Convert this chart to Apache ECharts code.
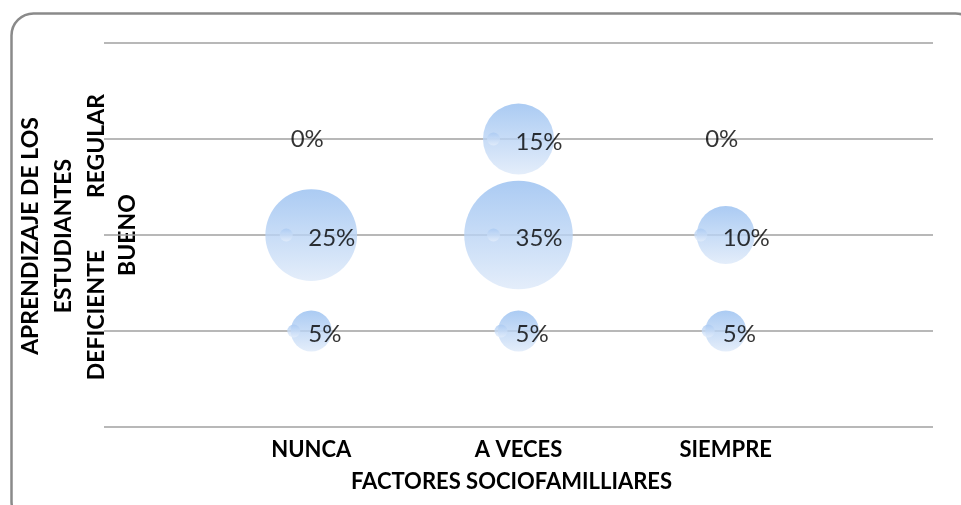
<!DOCTYPE html>
<html>
<head>
<meta charset="utf-8">
<script src="https://cdn.jsdelivr.net/npm/echarts@6/dist/echarts.min.js"></script>
<style>
html,body{margin:0;padding:0;background:#fff;}
#chart{width:961px;height:505px;}
</style>
</head>
<body>
<div id="chart"></div>
<script>
// categorias de los ejes
var xCats = ['NUNCA', 'A VECES', 'SIEMPRE'];
var yCats = ['DEFICIENTE', 'BUENO', 'REGULAR'];
// porcentajes por categoria x, en orden DEFICIENTE, BUENO, REGULAR
var nunca = [5, 25, 0];
var aVeces = [5, 35, 15];
var siempre = [5, 10, 0];
var xTitle = 'FACTORES SOCIOFAMILLIARES';
var yTitle = 'APRENDIZAJE DE LOS\nESTUDIANTES';

var rows = [nunca, aVeces, siempre];
var FONT = 'Lato';

// diametro proporcional a la raiz (area proporcional al valor)
function diam(v){ return v > 0 ? 18.35 * Math.sqrt(v) : 0; }

var bubbles = [];
var shines = [];
rows.forEach(function(vals, i){
    vals.forEach(function(v, j){
        var item = { value: [i + 1, j + 1, v] };
        if (v === 0) {
            item.label = { position: 'inside', align: 'center', offset: [-4, 0] };
        }
        bubbles.push(item);
        if (v > 0) {
            var r = diam(v) / 2;
            shines.push({ value: [i + 1, j + 1, v], symbolOffset: [-Math.min(25, r - 3), 0] });
        }
    });
});

var chart = echarts.init(document.getElementById('chart'));
var option = {
    backgroundColor: '#ffffff',
    animation: false,
    grid: { left: 104, right: 28, top: 43, bottom: 78 },
    xAxis: {
        type: 'value',
        min: 0, max: 4, interval: 1,
        axisLine: { show: false },
        axisTick: { show: false },
        splitLine: { show: false },
        axisLabel: {
            margin: 12,
            color: '#000',
            fontFamily: FONT,
            fontWeight: 'bold',
            fontSize: 22,
            formatter: function(v){ return xCats[v - 1] || ''; }
        },
        name: xTitle,
        nameLocation: 'middle',
        nameGap: 44,
        nameTextStyle: { color: '#000', fontFamily: FONT, fontWeight: 'bold', fontSize: 22, padding: [0, 14, 0, 0] }
    },
    yAxis: {
        type: 'value',
        min: 0, max: 4, interval: 1,
        axisLine: { show: false },
        axisTick: { show: false },
        axisLabel: { show: false },
        splitLine: { show: true, lineStyle: { color: '#a0a0a0', width: 1.5 } }
    },
    graphic: [
        {
            type: 'rect', left: 9, top: 11, z: -1,
            shape: { width: 966, height: 510, r: 22 },
            style: { fill: 'none', stroke: '#8a8a8a', lineWidth: 2.5 }
        },
        {
            type: 'text', x: 47, y: 236, rotation: Math.PI / 2,
            style: { text: yTitle, fill: '#000', font: 'bold 23px Lato', textAlign: 'center', textVerticalAlign: 'middle', lineHeight: 33 }
        },
        {
            type: 'text', x: 97, y: 146, rotation: Math.PI / 2,
            style: { text: yCats[2], fill: '#000', font: 'bold 23px Lato', textAlign: 'center', textVerticalAlign: 'middle' }
        },
        {
            type: 'text', x: 128, y: 235, rotation: Math.PI / 2,
            style: { text: yCats[1], fill: '#000', font: 'bold 23px Lato', textAlign: 'center', textVerticalAlign: 'middle' }
        },
        {
            type: 'text', x: 97, y: 315, rotation: Math.PI / 2,
            style: { text: yCats[0], fill: '#000', font: 'bold 23px Lato', textAlign: 'center', textVerticalAlign: 'middle' }
        }
    ],
    series: [
        {
            type: 'scatter',
            data: bubbles,
            symbolSize: function(d){ return diam(d[2]); },
            itemStyle: {
                color: new echarts.graphic.LinearGradient(0, 0, 0, 1, [
                    { offset: 0, color: '#96bef0' },
                    { offset: 1, color: '#dde9f9' }
                ])
            },
            label: {
                show: true,
                position: ['50%', '50%'],
                align: 'left',
                verticalAlign: 'middle',
                offset: [-3, 3],
                color: '#000',
                fontFamily: FONT,
                fontSize: 24,
                formatter: function(p){ return p.value[2] + '%'; }
            },
            z: 2
        },
        {
            type: 'scatter',
            data: shines,
            symbolSize: 13,
            silent: true,
            itemStyle: {
                color: new echarts.graphic.LinearGradient(0, 0, 0, 1, [
                    { offset: 0, color: '#a9c9f2' },
                    { offset: 1, color: '#e3edfb' }
                ])
            },
            z: 3
        }
    ]
};
chart.setOption(option);
</script>
</body>
</html>
